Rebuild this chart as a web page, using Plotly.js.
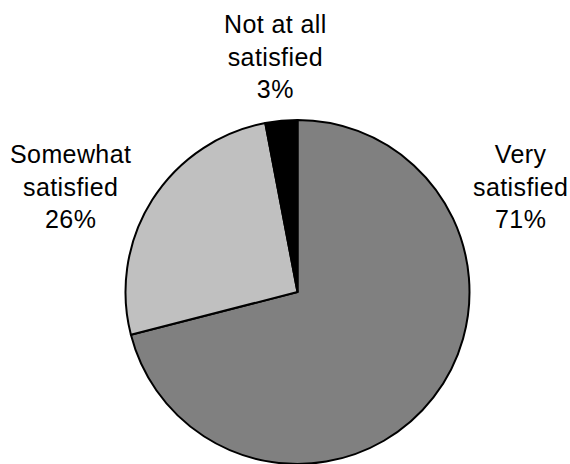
<!DOCTYPE html>
<html>
<head>
<meta charset="utf-8">
<script src="https://cdn.plot.ly/plotly-3.0.1.min.js"></script>
<style>
  html, body { margin: 0; padding: 0; background: #ffffff; }
  #chart { width: 570px; height: 464px; }
  .annotation-text { letter-spacing: 0.4px; }
</style>
</head>
<body>
<div id="chart"></div>
<script>
// Satisfaction shares, in drawing order (clockwise from 12 o'clock)
const categories = ["Very satisfied", "Somewhat satisfied", "Not at all satisfied"];
const labelLines = ["Very<br>satisfied", "Somewhat<br>satisfied", "Not at all<br>satisfied"];
const shares = [71, 26, 3];
const sliceColors = ["#808080", "#c0c0c0", "#000000"];

const W = 570, H = 464;

// Label anchor points in pixels (centre of each three-line block)
const labelPos = [
  { x: 520, y: 187 },
  { x: 70,  y: 187 },
  { x: 275, y: 56 }
];

const pie = {
  type: "pie",
  labels: categories,
  values: shares,
  sort: false,
  direction: "clockwise",
  rotation: 0,
  textinfo: "none",
  hoverinfo: "none",
  marker: { colors: sliceColors, line: { color: "#000000", width: 2 } },
  domain: { x: [(297.5 - 172.5) / W, (297.5 + 172.5) / W], y: [0, 344 / H] },
  showlegend: false
};

const annotations = categories.map((c, i) => ({
  xref: "paper", yref: "paper",
  x: labelPos[i].x / W,
  y: 1 - labelPos[i].y / H,
  xanchor: "center", yanchor: "middle",
  align: "center",
  showarrow: false,
  text: labelLines[i] + "<br>" + shares[i] + "%",
  font: { family: "Liberation Sans, Arial, sans-serif", size: 25, color: "#000000" }
}));

Plotly.newPlot("chart", [pie], {
  width: W, height: H,
  margin: { l: 0, r: 0, t: 0, b: 0 },
  paper_bgcolor: "#ffffff",
  annotations: annotations
}, { staticPlot: true });
</script>
</body>
</html>
